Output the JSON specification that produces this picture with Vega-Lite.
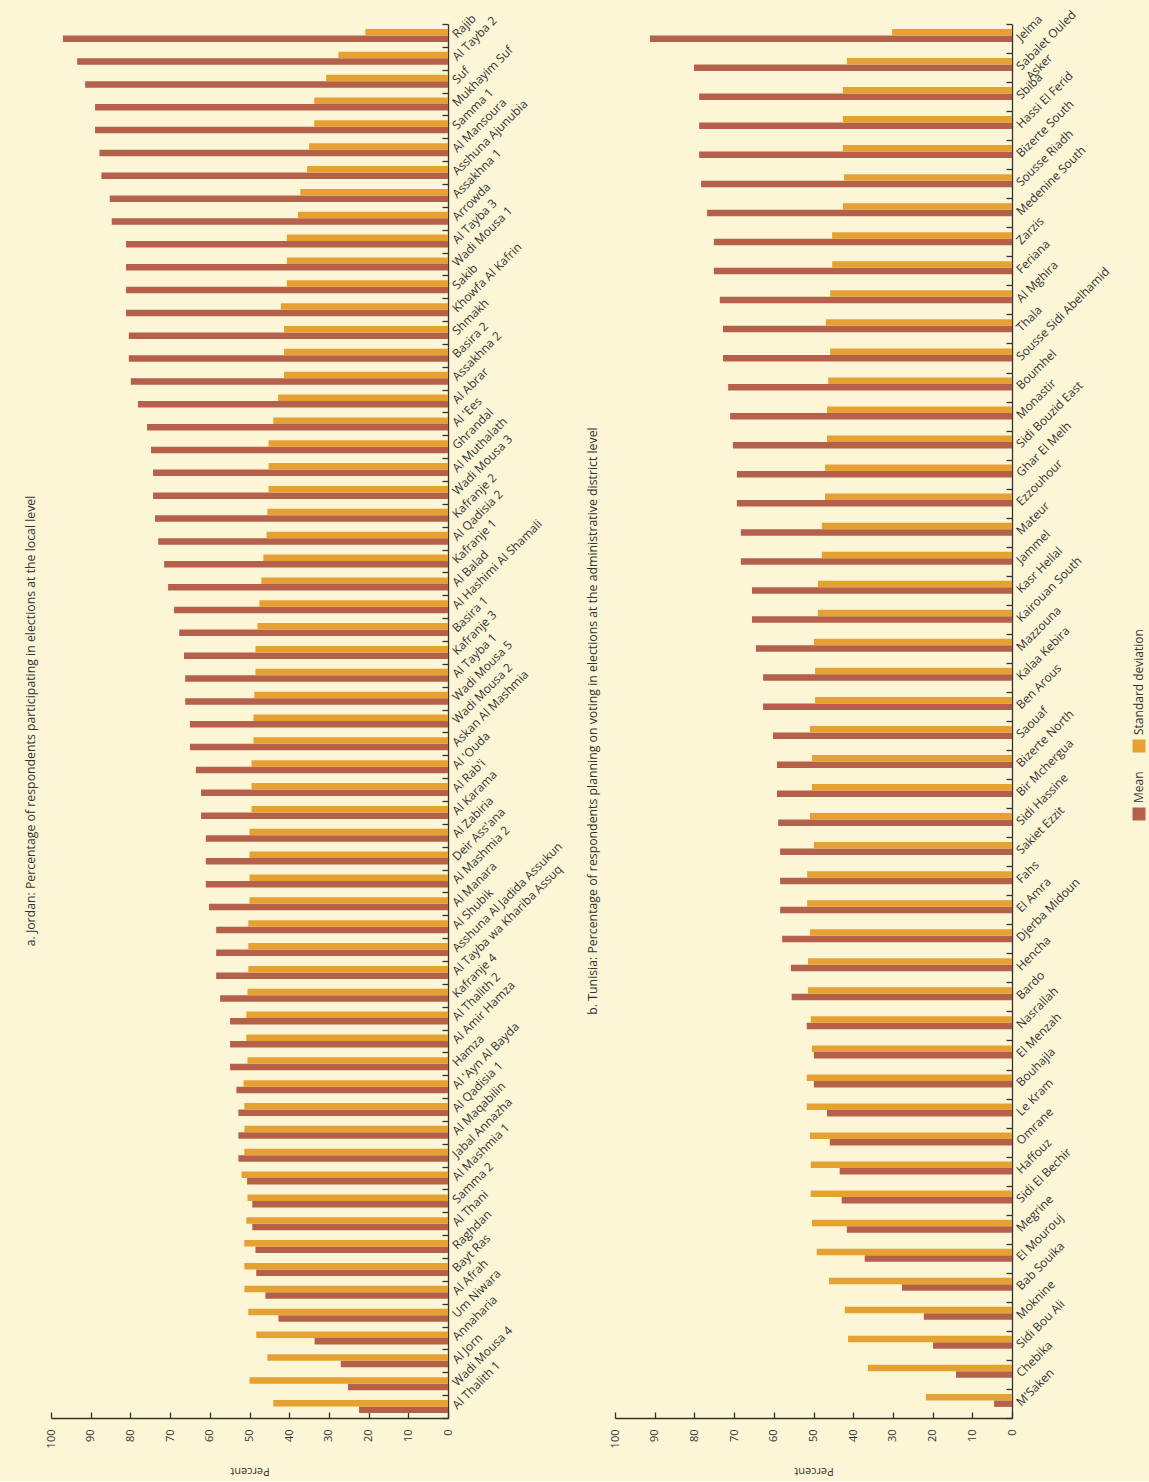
{
  "$schema": "https://vega.github.io/schema/vega-lite/v6.json",
  "background": "#FCF6D7",
  "padding": {"left": 24, "top": 8, "right": 4, "bottom": 4},
  "config": {
    "font": "Open Sans",
    "view": {"stroke": null},
    "axis": {"domainColor": "#333333", "domainWidth": 1.3, "tickColor": "#333333", "tickWidth": 1.3, "labelColor": "#333333", "titleColor": "#333333", "grid": false}
  },
  "datasets": {
    "jordan": [
      {"place": "Rajib", "Mean": 97.0, "Standard deviation": 20.8},
      {"place": "Al Tayba 2", "Mean": 93.4, "Standard deviation": 27.6},
      {"place": "Suf", "Mean": 91.4, "Standard deviation": 30.7},
      {"place": "Mukhayim Suf", "Mean": 88.9, "Standard deviation": 33.7},
      {"place": "Samma 1", "Mean": 88.9, "Standard deviation": 33.7},
      {"place": "Al Mansoura", "Mean": 87.8, "Standard deviation": 35.0},
      {"place": "Asshuna Ajunubia", "Mean": 87.3, "Standard deviation": 35.5},
      {"place": "Assakhna 1", "Mean": 85.2, "Standard deviation": 37.2},
      {"place": "Arrowda", "Mean": 84.7, "Standard deviation": 37.8},
      {"place": "Al Tayba 3", "Mean": 81.1, "Standard deviation": 40.6},
      {"place": "Wadi Mousa 1", "Mean": 81.1, "Standard deviation": 40.6},
      {"place": "Sakib", "Mean": 81.1, "Standard deviation": 40.6},
      {"place": "Khowfa Al Kafrin", "Mean": 81.1, "Standard deviation": 42.1},
      {"place": "Shmakh", "Mean": 80.4, "Standard deviation": 41.3},
      {"place": "Basira 2", "Mean": 80.4, "Standard deviation": 41.3},
      {"place": "Assakhna 2", "Mean": 79.9, "Standard deviation": 41.3},
      {"place": "Al Abrar", "Mean": 78.1, "Standard deviation": 42.8},
      {"place": "Al 'Ees", "Mean": 75.8, "Standard deviation": 44.0},
      {"place": "Ghrandal", "Mean": 74.8, "Standard deviation": 45.2},
      {"place": "Al Muthalath", "Mean": 74.3, "Standard deviation": 45.2},
      {"place": "Wadi Mousa 3", "Mean": 74.3, "Standard deviation": 45.2},
      {"place": "Kafranje 2", "Mean": 73.8, "Standard deviation": 45.5},
      {"place": "Al Qadisia 2", "Mean": 73.0, "Standard deviation": 45.7},
      {"place": "Kafranje 1", "Mean": 71.5, "Standard deviation": 46.5},
      {"place": "Al Balad", "Mean": 70.5, "Standard deviation": 47.0},
      {"place": "Al Hashimi Al Shamali", "Mean": 69.0, "Standard deviation": 47.5},
      {"place": "Basira 1", "Mean": 67.7, "Standard deviation": 48.0},
      {"place": "Kafranje 3", "Mean": 66.5, "Standard deviation": 48.5},
      {"place": "Al Tayba 1", "Mean": 66.2, "Standard deviation": 48.5},
      {"place": "Wadi Mousa 5", "Mean": 66.2, "Standard deviation": 48.8},
      {"place": "Wadi Mousa 2", "Mean": 65.0, "Standard deviation": 49.0},
      {"place": "Askan Al Mashmia", "Mean": 65.0, "Standard deviation": 49.0},
      {"place": "Al 'Ouda", "Mean": 63.5, "Standard deviation": 49.5},
      {"place": "Al Rab'i", "Mean": 62.2, "Standard deviation": 49.5},
      {"place": "Al Karama", "Mean": 62.2, "Standard deviation": 49.5},
      {"place": "Al Zabiria", "Mean": 61.0, "Standard deviation": 50.0},
      {"place": "Deir Ass'ana", "Mean": 61.0, "Standard deviation": 50.0},
      {"place": "Al Mashmia 2", "Mean": 61.0, "Standard deviation": 50.0},
      {"place": "Al Manara", "Mean": 60.2, "Standard deviation": 50.0},
      {"place": "Al Shubik", "Mean": 58.4, "Standard deviation": 50.3},
      {"place": "Asshuna Al Jadida Assukun", "Mean": 58.4, "Standard deviation": 50.3},
      {"place": "Al Tayba wa Khariba Assuq", "Mean": 58.4, "Standard deviation": 50.3},
      {"place": "Kafranje 4", "Mean": 57.4, "Standard deviation": 50.5},
      {"place": "Al Thalith 2", "Mean": 54.9, "Standard deviation": 50.8},
      {"place": "Al Amir Hamza", "Mean": 54.9, "Standard deviation": 50.8},
      {"place": "Hamza", "Mean": 54.9, "Standard deviation": 50.5},
      {"place": "Al 'Ayn Al Bayda", "Mean": 53.3, "Standard deviation": 51.5},
      {"place": "Al Qadisia 1", "Mean": 52.8, "Standard deviation": 51.3},
      {"place": "Al Maqabilin", "Mean": 52.8, "Standard deviation": 51.3},
      {"place": "Jabal Annazha", "Mean": 52.8, "Standard deviation": 51.3},
      {"place": "Al Mashmia 1", "Mean": 50.6, "Standard deviation": 52.0},
      {"place": "Samma 2", "Mean": 49.3, "Standard deviation": 50.5},
      {"place": "Al Thani", "Mean": 49.3, "Standard deviation": 50.8},
      {"place": "Raghdan", "Mean": 48.5, "Standard deviation": 51.3},
      {"place": "Bayt Ras", "Mean": 48.3, "Standard deviation": 51.3},
      {"place": "Al Afrah", "Mean": 46.0, "Standard deviation": 51.3},
      {"place": "Um Niwara", "Mean": 42.7, "Standard deviation": 50.3},
      {"place": "Annaharia", "Mean": 33.6, "Standard deviation": 48.3},
      {"place": "Al Jorn", "Mean": 27.0, "Standard deviation": 45.5},
      {"place": "Wadi Mousa 4", "Mean": 25.2, "Standard deviation": 50.0},
      {"place": "Al Thalith 1", "Mean": 22.4, "Standard deviation": 44.0}
    ],
    "tunisia": [
      {"place": "Jelma", "Mean": 91.2, "Standard deviation": 30.2},
      {"place": "Sabalet Ouled Asker", "Mean": 80.1, "Standard deviation": 41.6},
      {"place": "Sbiba", "Mean": 78.8, "Standard deviation": 42.6},
      {"place": "Hassi El Ferid", "Mean": 78.8, "Standard deviation": 42.6},
      {"place": "Bizerte South", "Mean": 78.8, "Standard deviation": 42.6},
      {"place": "Sousse Riadh", "Mean": 78.3, "Standard deviation": 42.3},
      {"place": "Medenine South", "Mean": 76.8, "Standard deviation": 42.6},
      {"place": "Zarzis", "Mean": 75.1, "Standard deviation": 45.3},
      {"place": "Feriana", "Mean": 75.1, "Standard deviation": 45.3},
      {"place": "Al Mghira", "Mean": 73.6, "Standard deviation": 45.8},
      {"place": "Thala", "Mean": 72.8, "Standard deviation": 46.9},
      {"place": "Sousse Sidi Abelhamid", "Mean": 72.8, "Standard deviation": 45.8},
      {"place": "Boumhel", "Mean": 71.5, "Standard deviation": 46.3},
      {"place": "Monastir", "Mean": 71.0, "Standard deviation": 46.6},
      {"place": "Sidi Bouzid East", "Mean": 70.3, "Standard deviation": 46.6},
      {"place": "Ghar El Melh", "Mean": 69.3, "Standard deviation": 47.1},
      {"place": "Ezzouhour", "Mean": 69.3, "Standard deviation": 47.1},
      {"place": "Mateur", "Mean": 68.3, "Standard deviation": 47.9},
      {"place": "Jammel", "Mean": 68.3, "Standard deviation": 47.9},
      {"place": "Kasr Hellal", "Mean": 65.5, "Standard deviation": 48.9},
      {"place": "Kairouan South", "Mean": 65.5, "Standard deviation": 48.9},
      {"place": "Mazzouna", "Mean": 64.5, "Standard deviation": 49.9},
      {"place": "Kalaa Kebira", "Mean": 62.7, "Standard deviation": 49.6},
      {"place": "Ben Arous", "Mean": 62.7, "Standard deviation": 49.6},
      {"place": "Saouaf", "Mean": 60.2, "Standard deviation": 50.9},
      {"place": "Bizerte North", "Mean": 59.2, "Standard deviation": 50.4},
      {"place": "Bir Mchergua", "Mean": 59.2, "Standard deviation": 50.4},
      {"place": "Sidi Hassine", "Mean": 58.9, "Standard deviation": 50.9},
      {"place": "Sakiet Ezzit", "Mean": 58.4, "Standard deviation": 49.9},
      {"place": "Fahs", "Mean": 58.4, "Standard deviation": 51.6},
      {"place": "El Amra", "Mean": 58.4, "Standard deviation": 51.6},
      {"place": "Djerba Midoun", "Mean": 57.9, "Standard deviation": 50.9},
      {"place": "Hencha", "Mean": 55.7, "Standard deviation": 51.4},
      {"place": "Bardo", "Mean": 55.5, "Standard deviation": 51.4},
      {"place": "Nasrallah", "Mean": 51.7, "Standard deviation": 50.7},
      {"place": "El Menzah", "Mean": 49.9, "Standard deviation": 50.4},
      {"place": "Bouhajla", "Mean": 49.9, "Standard deviation": 51.7},
      {"place": "Le Kram", "Mean": 46.6, "Standard deviation": 51.7},
      {"place": "Omrane", "Mean": 45.9, "Standard deviation": 50.9},
      {"place": "Haffouz", "Mean": 43.4, "Standard deviation": 50.7},
      {"place": "Sidi El Bechir", "Mean": 42.9, "Standard deviation": 50.7},
      {"place": "Megrine", "Mean": 41.6, "Standard deviation": 50.4},
      {"place": "El Mourouj", "Mean": 37.1, "Standard deviation": 49.2},
      {"place": "Bab Souika", "Mean": 27.7, "Standard deviation": 46.1},
      {"place": "Moknine", "Mean": 22.2, "Standard deviation": 42.1},
      {"place": "Sidi Bou Ali", "Mean": 19.9, "Standard deviation": 41.3},
      {"place": "Chebika", "Mean": 14.1, "Standard deviation": 36.3},
      {"place": "M'Saken", "Mean": 4.5, "Standard deviation": 21.7}
    ]
  },
  "spacing": 20,
  "hconcat": [
    {
      "spacing": 22,
      "hconcat": [
        {
          "title": {"text": "a. Jordan: Percentage of respondents participating in elections at the local level", "orient": "left", "anchor": "middle", "fontSize": 12.3, "fontWeight": "normal", "color": "#333333", "offset": 8},
          "width": 397,
          "height": 1394,
          "data": {"name": "jordan"},
          "transform": [{"fold": ["Mean", "Standard deviation"], "as": ["series", "value"]}],
          "mark": {"type": "bar"},
          "encoding": {
            "y": {"field": "place", "type": "nominal", "sort": null, "scale": {"paddingInner": 0, "paddingOuter": 0},
              "axis": {"orient": "right", "title": null, "labelAngle": -45, "labelAlign": "left", "labelBaseline": "middle", "tickBand": "extent", "tickSize": -6, "labelPadding": 12, "labelFontSize": 12, "labelLimit": 0}},
            "yOffset": {"field": "series", "type": "nominal", "sort": ["Standard deviation", "Mean"], "scale": {"paddingInner": 0, "paddingOuter": 0.758}},
            "x": {"field": "value", "type": "quantitative", "scale": {"domain": [0, 100], "reverse": true},
              "axis": {"title": "Percent", "values": [0, 10, 20, 30, 40, 50, 60, 70, 80, 90, 100], "labelAngle": 270, "labelFlush": false, "tickSize": -6, "labelPadding": 17, "labelFontSize": 11, "titleAngle": 180, "titleBaseline": "bottom", "titleFontSize": 11, "titleFontWeight": "normal", "titlePadding": 18}},
            "color": {"field": "series", "type": "nominal", "scale": {"domain": ["Mean", "Standard deviation"], "range": ["#B5604A", "#E6A133"]}, "legend": null}
          }
        },
        {
          "title": {"text": "b. Tunisia: Percentage of respondents planning on voting in elections at the administrative district level", "orient": "left", "anchor": "middle", "fontSize": 12.3, "fontWeight": "normal", "color": "#333333", "offset": 10},
          "width": 397,
          "height": 1394,
          "data": {"name": "tunisia"},
          "transform": [{"fold": ["Mean", "Standard deviation"], "as": ["series", "value"]}],
          "mark": {"type": "bar"},
          "encoding": {
            "y": {"field": "place", "type": "nominal", "sort": null, "scale": {"paddingInner": 0, "paddingOuter": 0},
              "axis": {"orient": "right", "title": null, "labelAngle": -45, "labelAlign": "left", "labelBaseline": "middle", "tickBand": "extent", "tickSize": -6, "labelPadding": 12, "labelFontSize": 12, "labelLimit": 0,
                "labelExpr": "datum.label == 'Sabalet Ouled Asker' ? ['Sabalet Ouled', 'Asker'] : datum.label"}},
            "yOffset": {"field": "series", "type": "nominal", "sort": ["Standard deviation", "Mean"], "scale": {"paddingInner": 0, "paddingOuter": 0.64}},
            "x": {"field": "value", "type": "quantitative", "scale": {"domain": [0, 100], "reverse": true},
              "axis": {"title": "Percent", "values": [0, 10, 20, 30, 40, 50, 60, 70, 80, 90, 100], "labelAngle": 270, "labelFlush": false, "tickSize": -6, "labelPadding": 17, "labelFontSize": 11, "titleAngle": 180, "titleBaseline": "bottom", "titleFontSize": 11, "titleFontWeight": "normal", "titlePadding": 18}},
            "color": {"field": "series", "type": "nominal", "scale": {"domain": ["Mean", "Standard deviation"], "range": ["#B5604A", "#E6A133"]}, "legend": null}
          }
        }
      ]
    },
    {
      "width": 14,
      "height": 1394,
      "data": {"values": [{"series": "Mean"}, {"series": "Standard deviation"}]},
      "layer": [
        {
          "mark": {"type": "square", "size": 169, "filled": true, "opacity": 1},
          "encoding": {
            "y": {"field": "series", "type": "nominal", "scale": {"type": "point", "padding": 0, "domain": ["Standard deviation", "Mean"], "range": [722, 790]}, "axis": null},
            "color": {"field": "series", "type": "nominal", "scale": {"domain": ["Mean", "Standard deviation"], "range": ["#B5604A", "#E6A133"]}, "legend": null}
          }
        },
        {
          "mark": {"type": "text", "angle": 270, "align": "left", "baseline": "middle", "dx": 11, "fontSize": 12, "color": "#333333"},
          "encoding": {
            "y": {"field": "series", "type": "nominal", "scale": {"type": "point", "padding": 0, "domain": ["Standard deviation", "Mean"], "range": [722, 790]}, "axis": null},
            "text": {"field": "series"}
          }
        }
      ]
    }
  ]
}
